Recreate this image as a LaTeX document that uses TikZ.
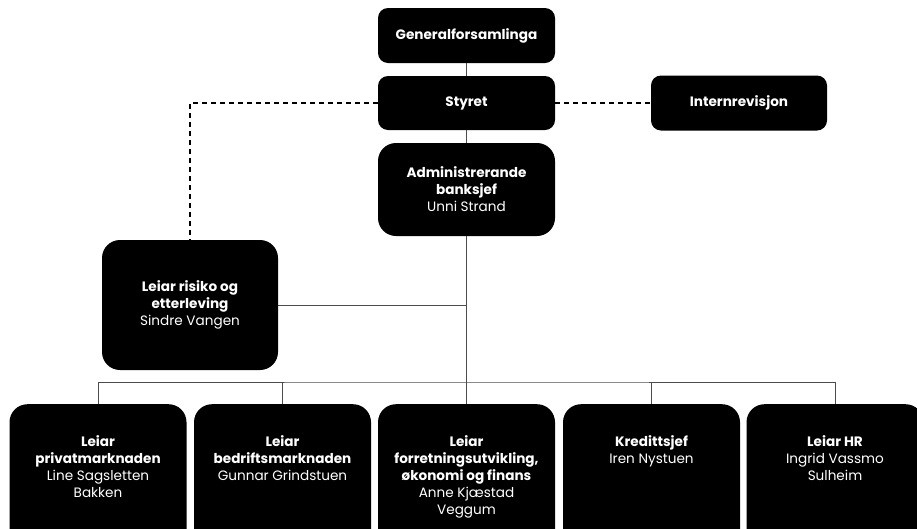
\documentclass[tikz,border=0pt]{standalone}
\usepackage{fontspec}
\setmainfont{Poppins}
\newcommand{\toptext}[1]{\parbox[t][100pt][t]{170pt}{\centering #1}}
\begin{document}
\begin{tikzpicture}[x=1pt, y=-1pt,
		box/.style = {fill=black, text=white, rounded corners=10pt, align=center,
			minimum width=177pt, font=\fontsize{13.6}{17}\selectfont},
		big/.style = {box, rounded corners=18pt},
		bot/.style = {big, anchor=north, inner xsep=3pt, inner ysep=31pt},
		ln/.style = {draw=black!70, line width=0.8pt},
		dsh/.style = {draw=black, line width=1.2pt, dash pattern=on 5pt off 4pt}]
			\useasboundingbox (0,0) rectangle (917,528);
			\clip (0,0) rectangle (917,528);
			\node[box, minimum height=55pt] at (466.5,35.5) (gen) {\textbf{Generalforsamlinga}};
			\node[box, minimum height=54pt] at (466.5,103) (sty) {\textbf{Styret}};
			\node[box, minimum height=55pt, minimum width=176pt] at (739,103) (int) {\textbf{Internrevisjon}};
			\node[big, minimum height=93pt] at (466.5,189.5) (adm) {\textbf{Administrerande}\\ \textbf{banksjef}\\ Unni Strand};
			\node[big, minimum height=130pt, minimum width=176pt] at (190,305) (risk) {\textbf{Leiar risiko og}\\ \textbf{etterleving}\\ Sindre Vangen};
			\node[bot] at (98,404) (b1) {\toptext{\textbf{Leiar}\\ \textbf{privatmarknaden}\\ Line Sagsletten\\ Bakken}};
			\node[bot] at (282.5,404) (b2) {\toptext{\textbf{Leiar}\\ \textbf{bedriftsmarknaden}\\ Gunnar Grindstuen}};
			\node[bot] at (466.5,404) (b3) {\toptext{\textbf{Leiar}\\ \textbf{forretningsutvikling,}\\ \textbf{økonomi og finans}\\ Anne Kjæstad\\ Veggum}};
			\node[bot] at (651.5,404) (b4) {\toptext{\textbf{Kredittsjef}\\ Iren Nystuen}};
			\node[bot] at (835,404) (b5) {\toptext{\textbf{Leiar HR}\\ Ingrid Vassmo\\ Sulheim}};
			\coordinate (bus) at (466.5,382);
			\draw[ln] (gen) -- (sty);
			\draw[ln] (sty) -- (adm);
			\draw[ln] (adm) -- (b3);
			\draw[ln] (risk) -- (risk -| adm);
			\draw[ln] (b1) |- (bus) -| (b5);
			\draw[ln] (b2) -- (b2 |- bus);
			\draw[ln] (b4) -- (b4 |- bus);
			\draw[dsh] (sty) -| (risk);
			\draw[dsh] (sty) -- (int);
		\end{tikzpicture}
\end{document}
